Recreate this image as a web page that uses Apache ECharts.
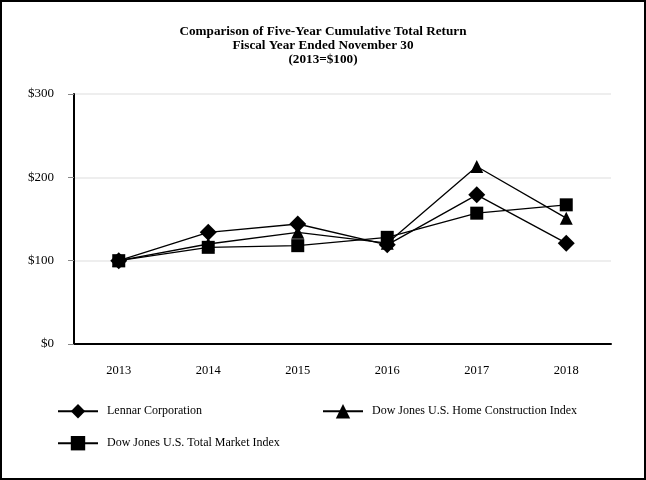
<!DOCTYPE html>
<html><head><meta charset="utf-8">
<script src="https://cdn.jsdelivr.net/npm/echarts@6/dist/echarts.min.js"></script>
<style>html,body{margin:0;padding:0;background:#fff}#c{width:646px;height:480px;box-sizing:border-box;border:2px solid #000}</style>
</head><body><div id="c"></div>
<script>
const years = ['2013','2014','2015','2016','2017','2018'];
const lennar = [100, 134, 144, 119, 179, 121];
const homeConstruction = [100, 120, 134, 121, 213, 151];
const totalMarket = [100, 116, 118, 128, 157, 167];
const yTicks = [0, 100, 200, 300];

const chart = echarts.init(document.getElementById('c'));
const font = '"Liberation Serif","Times New Roman",serif';
const mk = (name, data, symbol, size) => ({
  name, type: 'line', data, symbol, symbolSize: size, showSymbol: true,
  lineStyle: {color: '#000', width: 1.3}, itemStyle: {color: '#000'},
  emphasis: {disabled: true}, animation: false
});
const legText = {fontFamily: font, fontSize: 12, color: '#000', padding: [0, 0, 0, 4]};
chart.setOption({
  animation: false,
  textStyle: {fontFamily: font},
  title: {
    text: 'Comparison of Five-Year Cumulative Total Return\nFiscal Year Ended November 30\n(2013=$100)',
    left: 'center', top: 17,
    textStyle: {fontFamily: font, fontSize: 13.2, fontWeight: 'bold', color: '#000', lineHeight: 14.3}
  },
  legend: [
    {left: 50, top: 397, itemWidth: 40, itemHeight: 18, data: ['Lennar Corporation'], textStyle: legText},
    {left: 315, top: 397, itemWidth: 40, itemHeight: 18, data: ['Dow Jones U.S. Home Construction Index'], textStyle: legText},
    {left: 50, top: 429, itemWidth: 40, itemHeight: 18, data: ['Dow Jones U.S. Total Market Index'], textStyle: legText}
  ],
  grid: {left: 72, right: 33, top: 92, bottom: 134, containLabel: false},
  xAxis: {
    type: 'category', data: years, boundaryGap: true,
    axisLine: {lineStyle: {color: '#000', width: 2}},
    axisTick: {alignWithLabel: true, length: 6, lineStyle: {color: '#888'}},
    axisLabel: {fontFamily: font, fontSize: 12.5, color: '#000', margin: 20}
  },
  yAxis: {
    type: 'value', min: 0, max: 300, interval: 100,
    axisLine: {show: true, lineStyle: {color: '#000', width: 2}},
    axisTick: {show: true, length: 6, lineStyle: {color: '#888'}},
    splitLine: {lineStyle: {color: '#e8e8e8', width: 1.5}},
    axisLabel: {fontFamily: font, fontSize: 13, color: '#000', margin: 20,
      formatter: v => yTicks.includes(v) ? '$' + v : ''}
  },
  series: [
    mk('Lennar Corporation', lennar, 'diamond', 17),
    mk('Dow Jones U.S. Home Construction Index', homeConstruction, 'triangle', 13),
    mk('Dow Jones U.S. Total Market Index', totalMarket, 'rect', 13)
  ]
});
</script></body></html>
